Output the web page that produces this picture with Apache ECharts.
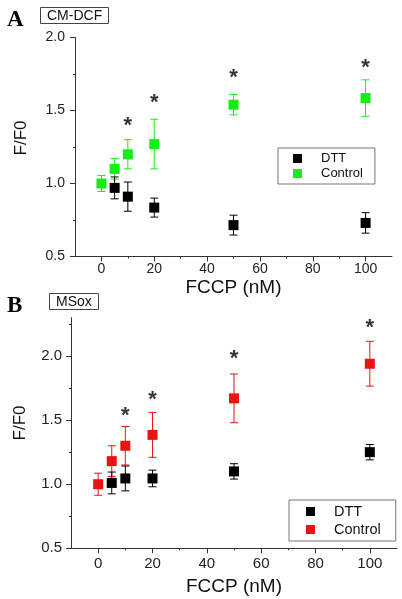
<!DOCTYPE html>
<html><head><meta charset="utf-8">
<script src="https://cdn.jsdelivr.net/npm/echarts@6/dist/echarts.min.js"></script>
<style>html,body{margin:0;padding:0;background:#fff}#c{width:402px;height:599px}</style>
</head><body><div id="c"></div>
<script>
// ---- Panel A (CM-DCF) ----
const xA_ctrl = [0, 5, 10, 20, 50, 100];
const yA_ctrl = [1.00, 1.10, 1.20, 1.27, 1.54, 1.585];
const eA_ctrl = [0.055, 0.07, 0.10, 0.17, 0.07, 0.125];
const xA_dtt = [5, 10, 20, 50, 100];
const yA_dtt = [0.97, 0.91, 0.835, 0.715, 0.73];
const eA_dtt = [0.075, 0.10, 0.065, 0.068, 0.07];
const starA_x = [10, 20, 50, 100];
const starA_y = [1.392, 1.552, 1.721, 1.79];
// ---- Panel B (MSox) ----
const xB_ctrl = [0, 5, 10, 20, 50, 100];
const yB_ctrl = [1.00, 1.18, 1.30, 1.385, 1.67, 1.94];
const eB_ctrl = [0.086, 0.12, 0.15, 0.175, 0.19, 0.175];
const xB_dtt = [5, 10, 20, 50, 100];
const yB_dtt = [1.01, 1.045, 1.045, 1.10, 1.25];
const eB_dtt = [0.085, 0.097, 0.065, 0.06, 0.06];
const starB_x = [10, 20, 50, 100];
const starB_y = [1.534, 1.659, 1.977, 2.223];
// ---- ticks ----
const xTickVals = [0, 20, 40, 60, 80, 100];
const xMinorVals = [10, 30, 50, 70, 90];
const yTickVals = [0.5, 1.0, 1.5, 2.0];
const yMinorA = [0.75, 1.25, 1.75];
const yMinorB = [0.75, 1.25, 1.75, 2.25];

const FONT = "'Liberation Sans', Arial, sans-serif";
const GREEN = '#14ee14', RED = '#ee1111', BLACK = '#000';

function pts(xs, ys) { return xs.map((v, i) => [v, ys[i]]); }
function errs(xs, ys, es) { return xs.map((v, i) => [v, ys[i] - es[i], ys[i] + es[i]]); }
function errRender(color) {
  return function (params, api) {
    const x = api.value(0);
    const p1 = api.coord([x, api.value(1)]);
    const p2 = api.coord([x, api.value(2)]);
    const w = 4;
    const style = { stroke: color, lineWidth: 1 };
    return { type: 'group', children: [
      { type: 'line', shape: { x1: p1[0], y1: p1[1], x2: p2[0], y2: p2[1] }, style },
      { type: 'line', shape: { x1: p1[0] - w, y1: p1[1], x2: p1[0] + w, y2: p1[1] }, style },
      { type: 'line', shape: { x1: p2[0] - w, y1: p2[1], x2: p2[0] + w, y2: p2[1] }, style }
    ] };
  };
}
function errSeries(xi, yi, xs, ys, es, color) {
  return { type: 'custom', xAxisIndex: xi, yAxisIndex: yi, renderItem: errRender(color),
    data: errs(xs, ys, es), z: 3, silent: true };
}
function markSeries(name, xi, yi, xs, ys, color) {
  return { name, type: 'scatter', xAxisIndex: xi, yAxisIndex: yi, symbol: 'rect', symbolSize: 10,
    itemStyle: { color, opacity: 1 }, data: pts(xs, ys), z: 4 };
}
function starSeries(xi, yi, xs, ys) {
  return { type: 'scatter', xAxisIndex: xi, yAxisIndex: yi, symbolSize: 2,
    itemStyle: { color: 'rgba(0,0,0,0)' }, data: pts(xs, ys), z: 5, silent: true,
    labelLayout: { hideOverlap: false },
    label: { show: true, position: 'inside', formatter: '*', fontFamily: FONT, fontSize: 22,
      fontWeight: 'bold', color: '#000', offset: [0, 5] } };
}
function xMain(grid, fs, margin, gap) {
  return { gridIndex: grid, type: 'value', min: -10, max: 110, interval: 10, position: 'bottom',
    axisLine: { onZero: false, lineStyle: { color: '#333', width: 1 } },
    axisTick: { customValues: xTickVals, length: 5, lineStyle: { color: '#333' } },
    axisLabel: { customValues: xTickVals, margin, fontSize: fs, color: '#222', fontFamily: FONT },
    splitLine: { show: false },
    name: 'FCCP (nM)', nameLocation: 'middle', nameGap: gap,
    nameTextStyle: { fontSize: 19, color: '#111', fontFamily: FONT } };
}
function xMinor(grid) {
  return { gridIndex: grid, type: 'value', min: -10, max: 110, interval: 10, position: 'bottom',
    axisLine: { show: false, onZero: false },
    axisTick: { customValues: xMinorVals, length: 2, lineStyle: { color: '#333' } },
    axisLabel: { show: false }, splitLine: { show: false } };
}
function yMain(grid, max, fs, margin, gap, pad) {
  return { gridIndex: grid, type: 'value', min: 0.5, max, interval: 0.5, position: 'left',
    axisLine: { show: true, onZero: false, lineStyle: { color: '#333', width: 1 } },
    axisTick: { show: true, customValues: yTickVals, length: 5, lineStyle: { color: '#333' } },
    axisLabel: { customValues: yTickVals, margin, fontSize: fs, color: '#222', fontFamily: FONT,
      formatter: v => v.toFixed(1) },
    splitLine: { show: false },
    name: 'F/F0', nameLocation: 'middle', nameGap: gap,
    nameTextStyle: { fontSize: 17, color: '#111', fontFamily: FONT, padding: pad } };
}
function yMinor(grid, max, vals) {
  return { gridIndex: grid, type: 'value', min: 0.5, max, interval: 0.5, position: 'left',
    axisLine: { show: false, onZero: false },
    axisTick: { show: true, customValues: vals, length: 2, lineStyle: { color: '#333' } },
    axisLabel: { show: false }, splitLine: { show: false } };
}
function legend(left, top, fs, padL, padR, gap, colorCtrl) {
  return { left, top, orient: 'vertical', itemWidth: 9, itemHeight: 9, itemGap: gap,
    padding: [4, padR, 4, padL], borderColor: '#777', borderWidth: 1, icon: 'rect',
    textStyle: { fontSize: fs, color: '#111', fontFamily: FONT, padding: [0, 0, 0, 14] },
    selectedMode: false,
    data: [{ name: 'DTT', itemStyle: { color: BLACK } }, { name: 'Control', itemStyle: { color: colorCtrl } }] };
}

const chart = echarts.init(document.getElementById('c'), null, { renderer: 'canvas' });
chart.setOption({
  animation: false,
  backgroundColor: '#fff',
  textStyle: { fontFamily: FONT },
  title: [
    { text: 'A', left: 7, top: 9, padding: 0, textStyle: { fontFamily: "'Liberation Serif', 'Times New Roman', serif", fontWeight: 'bold', fontSize: 23, color: '#000' } },
    { text: 'CM-DCF', left: 40, top: 7, padding: [2, 7, 1, 7], borderColor: '#444', borderWidth: 1, textStyle: { fontFamily: FONT, fontWeight: 'normal', fontSize: 14, color: '#111' } },
    { text: 'B', left: 7, top: 295, padding: 0, textStyle: { fontFamily: "'Liberation Serif', 'Times New Roman', serif", fontWeight: 'bold', fontSize: 23, color: '#000' } },
    { text: 'MSox', left: 49, top: 293, padding: [2, 7, 1, 7], borderColor: '#444', borderWidth: 1, textStyle: { fontFamily: FONT, fontWeight: 'normal', fontSize: 14, color: '#111' } }
  ],
  legend: [ legend(278, 148, 13, 15, 12, 2, GREEN), legend(289, 500, 14.5, 17, 15, 3, RED) ],
  grid: [
    { left: 75, top: 37.5, width: 317, height: 219 },
    { left: 71, top: 317.6, width: 326, height: 230.7 }
  ],
  xAxis: [ xMain(0, 14, 6, 22), xMinor(0), xMain(1, 15, 8, 29), xMinor(1) ],
  yAxis: [ yMain(0, 2.0, 14, 10, 45, [0, 0, 0, 18]), yMinor(0, 2.0, yMinorA),
           yMain(1, 2.3, 15, 9, 42, [0, 0, 0, 20]), yMinor(1, 2.3, yMinorB) ],
  series: [
    errSeries(0, 0, xA_ctrl, yA_ctrl, eA_ctrl, GREEN),
    markSeries('Control', 0, 0, xA_ctrl, yA_ctrl, GREEN),
    errSeries(0, 0, xA_dtt, yA_dtt, eA_dtt, BLACK),
    markSeries('DTT', 0, 0, xA_dtt, yA_dtt, BLACK),
    starSeries(0, 0, starA_x, starA_y),
    errSeries(2, 2, xB_ctrl, yB_ctrl, eB_ctrl, RED),
    markSeries('Control', 2, 2, xB_ctrl, yB_ctrl, RED),
    errSeries(2, 2, xB_dtt, yB_dtt, eB_dtt, BLACK),
    markSeries('DTT', 2, 2, xB_dtt, yB_dtt, BLACK),
    starSeries(2, 2, starB_x, starB_y)
  ]
});
</script></body></html>
